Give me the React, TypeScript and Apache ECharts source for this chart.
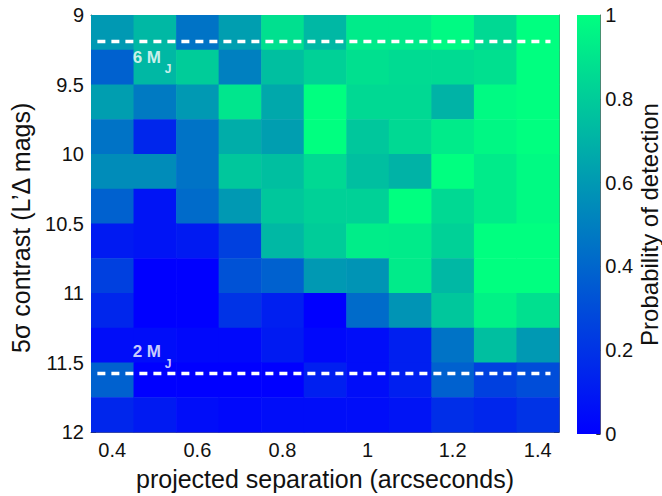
import React, { useEffect, useRef } from "react";
import * as echarts from "echarts";

const xCenters = [0.4, 0.5, 0.6, 0.7, 0.8, 0.9, 1.0, 1.1, 1.2, 1.3, 1.4];
const yCenters = [9.125, 9.375, 9.625, 9.875, 10.125, 10.375, 10.625, 10.875, 11.125, 11.375, 11.625, 11.875];
// probability of detection, one row per contrast bin (top to bottom), one column per separation
const probability = [
  [0.6, 0.72, 0.45, 0.62, 0.88, 0.72, 0.92, 0.92, 0.98, 0.85, 1.0],
  [0.38, 0.72, 0.8, 0.5, 0.75, 0.82, 0.88, 0.86, 0.86, 0.88, 1.0],
  [0.62, 0.48, 0.6, 0.9, 0.66, 1.0, 0.85, 0.85, 0.7, 0.98, 1.0],
  [0.45, 0.15, 0.45, 0.68, 0.62, 1.0, 0.78, 0.85, 0.92, 0.97, 1.0],
  [0.55, 0.55, 0.45, 0.78, 0.75, 0.85, 0.75, 0.7, 1.0, 0.92, 0.98],
  [0.38, 0.08, 0.42, 0.6, 0.78, 0.82, 0.82, 1.0, 0.85, 0.92, 0.98],
  [0.1, 0.08, 0.1, 0.25, 0.72, 0.8, 0.93, 0.92, 0.82, 1.0, 1.0],
  [0.25, 0.0, 0.0, 0.32, 0.38, 0.6, 0.58, 0.92, 0.72, 1.0, 1.0],
  [0.15, 0.0, 0.0, 0.2, 0.12, 0.0, 0.42, 0.58, 0.78, 0.95, 0.88],
  [0.05, 0.05, 0.03, 0.03, 0.1, 0.03, 0.05, 0.12, 0.45, 0.75, 0.6],
  [0.38, 0.0, 0.0, 0.0, 0.0, 0.12, 0.05, 0.12, 0.38, 0.25, 0.3],
  [0.15, 0.1, 0.05, 0.03, 0.05, 0.05, 0.05, 0.08, 0.18, 0.15, 0.2],
];
const xTicks = [0.4, 0.6, 0.8, 1, 1.2, 1.4];
const massLines = [
  { name: "6 M", sub: "J", contrast: 9.19, labelX: 0.448, labelY: 9.304 },
  { name: "2 M", sub: "J", contrast: 11.58, labelX: 0.448, labelY: 11.422 },
];
const lineXRange = [0.365, 1.43];
const yTitle = "5\u03c3 contrast (L\u2019\u0394 mags)";

const FONT = "Liberation Sans, Arial, Helvetica, sans-serif";

export default function App() {
  const ref = useRef<HTMLDivElement>(null);
  useEffect(() => {
    document.body.style.margin = "0";
    const chart = echarts.init(ref.current!, null, { renderer: "svg" });
    const halfW = (xCenters[1] - xCenters[0]) / 2;
    const halfH = (yCenters[1] - yCenters[0]) / 2;
    const cells: number[][] = [];
    probability.forEach((row, i) =>
      row.forEach((v, j) => cells.push([xCenters[j], yCenters[i], v]))
    );
    const axisText = { color: "#111", fontSize: 20, fontFamily: FONT };
    const titleText = { color: "#111", fontSize: 25, fontFamily: FONT };
    const lineSeries = massLines.map((m) => ({
      type: "line",
      xAxisIndex: 0,
      yAxisIndex: 0,
      data: [
        [lineXRange[0], m.contrast],
        [lineXRange[1], m.contrast],
      ],
      symbol: "none",
      silent: true,
      z: 5,
      lineStyle: { color: "#ffffff", width: 3.5, type: [8, 6] },
    }));
    const labelPoints = massLines.map((m) => ({ value: [m.labelX, m.labelY], name: m.name, sub: m.sub }));
    const option: any = {
      animation: false,
      visualMap: {
        show: false,
        type: "continuous",
        min: 0,
        max: 1,
        dimension: 2,
        seriesIndex: 0,
        inRange: { color: ["#0000ff", "#00ff80"] },
      },
      graphic: [
        {
          type: "text",
          x: 8,
          y: 353,
          rotation: Math.PI / 2,
          z: 10,
          style: {
            text: yTitle,
            fill: "#111",
            font: `25px ${FONT}`,
          },
        },
      ],
      grid: [
        { left: 91, top: 15, width: 468, height: 419, show: false },
        { left: 577, top: 15, width: 26, height: 419, show: false },
      ],
      xAxis: [
        {
          type: "value",
          gridIndex: 0,
          min: 0.35,
          max: 1.45,
          name: "projected separation (arcseconds)",
          nameLocation: "middle",
          nameGap: 34,
          nameTextStyle: titleText,
          axisLine: { show: true, onZero: false, lineStyle: { color: "#666", width: 1 } },
          axisTick: { show: true, inside: true, length: 5, customValues: xTicks, lineStyle: { color: "#333" } },
          axisLabel: { ...axisText, margin: 8, customValues: xTicks },
          splitLine: { show: false },
        },
        {
          type: "value",
          gridIndex: 0,
          position: "top",
          min: 0.35,
          max: 1.45,
          axisLine: { show: true, onZero: false, lineStyle: { color: "#666", width: 1 } },
          axisTick: { show: true, inside: true, length: 5, customValues: xTicks, lineStyle: { color: "#333" } },
          axisLabel: { show: false },
          splitLine: { show: false },
        },
        {
          type: "category",
          gridIndex: 1,
          data: [""],
          show: false,
        },
      ],
      yAxis: [
        {
          type: "value",
          gridIndex: 0,
          min: 9,
          max: 12,
          interval: 0.5,
          inverse: true,
          axisLine: { show: true, onZero: false, lineStyle: { color: "#666", width: 1 } },
          axisTick: { show: true, inside: true, length: 5, lineStyle: { color: "#333" } },
          axisLabel: { ...axisText, margin: 7 },
          splitLine: { show: false },
        },
        {
          type: "value",
          gridIndex: 0,
          position: "right",
          min: 9,
          max: 12,
          interval: 0.5,
          inverse: true,
          axisLine: { show: true, onZero: false, lineStyle: { color: "#666", width: 1 } },
          axisTick: { show: true, inside: true, length: 5, lineStyle: { color: "#333" } },
          axisLabel: { show: false },
          splitLine: { show: false },
        },
        {
          type: "value",
          gridIndex: 1,
          position: "right",
          min: 0,
          max: 1,
          interval: 0.2,
          name: "Probability of detection",
          nameLocation: "middle",
          nameGap: 35,
          nameRotate: 90,
          nameTextStyle: { ...titleText, fontSize: 24 },
          axisLine: { show: true, lineStyle: { color: "#666", width: 1 } },
          axisTick: { show: true, inside: true, length: 4, lineStyle: { color: "#333" } },
          axisLabel: { ...axisText, margin: 5 },
          splitLine: { show: false },
        },
      ],
      series: [
        {
          type: "custom",
          xAxisIndex: 0,
          yAxisIndex: 0,
          data: cells,
          encode: { x: 0, y: 1 },
          renderItem: (params: any, api: any) => {
            const x = api.value(0);
            const y = api.value(1);
            const p1 = api.coord([x - halfW, y - halfH]);
            const p2 = api.coord([x + halfW, y + halfH]);
            return {
              type: "rect",
              shape: {
                x: Math.min(p1[0], p2[0]),
                y: Math.min(p1[1], p2[1]),
                width: Math.abs(p2[0] - p1[0]) + 0.6,
                height: Math.abs(p2[1] - p1[1]) + 0.6,
              },
              style: { fill: api.visual("color") },
            };
          },
          silent: true,
        },
        ...lineSeries,
        {
          type: "scatter",
          xAxisIndex: 0,
          yAxisIndex: 0,
          symbolSize: 0,
          silent: true,
          z: 6,
          data: labelPoints,
          label: {
            show: true,
            position: "inside",
            align: "left",
            verticalAlign: "middle",
            formatter: (p: any) => p.name,
            color: "#fff",
            fontSize: 17,
            fontWeight: "bold",
            fontFamily: FONT,
          },
        },
        {
          type: "scatter",
          xAxisIndex: 0,
          yAxisIndex: 0,
          symbolSize: 0,
          silent: true,
          z: 6,
          data: labelPoints,
          label: {
            show: true,
            position: "inside",
            align: "left",
            verticalAlign: "middle",
            offset: [32, 12],
            formatter: (p: any) => p.data.sub,
            color: "#fff",
            fontSize: 12,
            fontWeight: "bold",
            fontFamily: FONT,
          },
        },
        {
          type: "bar",
          xAxisIndex: 2,
          yAxisIndex: 2,
          data: [1],
          barWidth: "100%",
          silent: true,
          itemStyle: {
            color: new echarts.graphic.LinearGradient(0, 0, 0, 1, [
              { offset: 0, color: "#00ff80" },
              { offset: 1, color: "#0000ff" },
            ]),
          },
        },
      ],
    };
    chart.setOption(option);
    return () => chart.dispose();
  }, []);
  return <div ref={ref} style={{ width: 662, height: 496 }} />;
}
